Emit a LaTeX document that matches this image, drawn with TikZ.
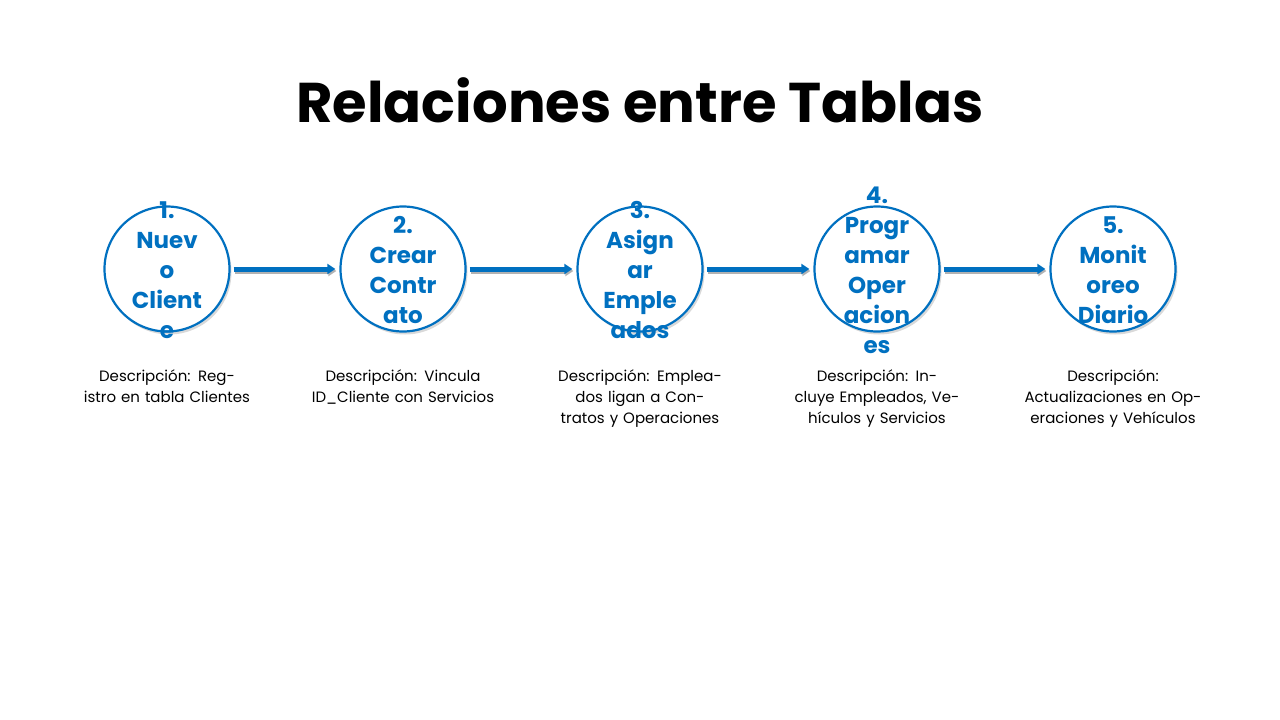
\documentclass[tikz,border=0pt]{standalone}
\usepackage{fontspec}
\setmainfont{Poppins}
\usetikzlibrary{shadows,arrows.meta}
\definecolor{azul}{HTML}{0070C0}
\begin{document}
\begin{tikzpicture}[x=1pt,y=-1pt,
  stepc/.style={circle,draw=azul,line width=2.2pt,fill=white,minimum size=125pt,inner sep=0pt,
    drop shadow={shadow xshift=2pt,shadow yshift=-3pt,opacity=0.3}},
  lbl/.style={text=azul,font=\bfseries\fontsize{23}{30}\selectfont,align=center},
  desc/.style={font=\fontsize{15}{21}\selectfont,align=center,text width=215pt},
  link/.style={draw=azul,line width=5pt,-{Triangle[length=8pt,width=10pt]},
    preaction={draw=black!30,line width=5pt,transform canvas={xshift=1pt,yshift=-2pt}}}]
\useasboundingbox (0,0) rectangle (1280,720);
\node[font=\bfseries\fontsize{56}{60}\selectfont] (title) at (640,100) {Relaciones entre Tablas};
\foreach \i/\x in {1/167,2/403,3/640,4/877,5/1113}{
  \node[stepc] (c\i) at (\x,269) {};
}
\node[lbl] (t1) at (167,270) {1.\\Nuev\\o\\Client\\e};
\node[lbl] (t2) at (403,270) {2.\\Crear\\Contr\\ato};
\node[lbl] (t3) at (640,270) {3.\\Asign\\ar\\Emple\\ados};
\node[lbl] (t4) at (877,270) {4.\\Progr\\amar\\Oper\\acion\\es};
\node[lbl] (t5) at (1113,270) {5.\\Monit\\oreo\\Diario};
\foreach \a/\b in {1/2,2/3,3/4,4/5}{
  \draw[link] ([xshift=3pt]c\a.east) -- ([xshift=-4pt]c\b.west);
}
\node[desc,anchor=north] (d1) at (167,366) {Descripción: Registro en tabla Clientes};
\node[desc,anchor=north] (d2) at (403,366) {Descripción: Vincula ID\_Cliente con Servicios};
\node[desc,anchor=north] (d3) at (640,366) {Descripción: Empleados ligan a Contratos y Operaciones};
\node[desc,anchor=north] (d4) at (877,366) {Descripción: Incluye Empleados, Vehículos y Servicios};
\node[desc,anchor=north,text width=205pt] (d5) at (1113,366) {Descripción:\\Actualizaciones en Operaciones y Vehículos};
\end{tikzpicture}
\end{document}
